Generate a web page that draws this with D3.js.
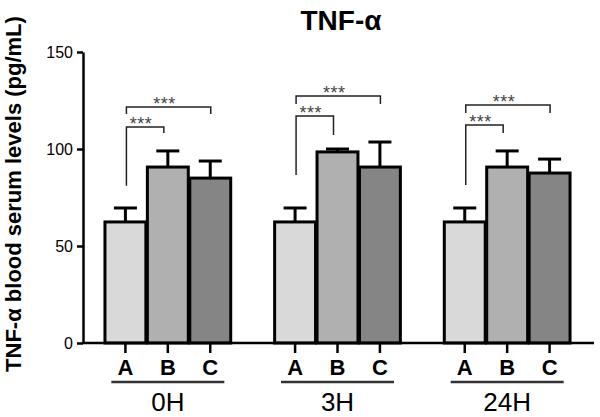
<!DOCTYPE html>
<html>
<head>
<meta charset="utf-8">
<script src="https://cdn.jsdelivr.net/npm/d3@7/dist/d3.min.js"></script>
<style>
  html, body { margin: 0; padding: 0; background: #fff; }
  svg { display: block; font-family: Arial, "Liberation Sans", sans-serif; }
</style>
</head>
<body>
<svg id="chart" width="600" height="417"></svg>
<script>
// ---- data ----
const title = "TNF-α";
const yLabel = "TNF-α blood serum levels (pg/mL)";
const groups = ["0H", "3H", "24H"];
const categories = ["A", "B", "C"];
const meansA = [62.4, 62.4, 62.4];
const meansB = [90.7, 98.5, 90.7];
const meansC = [85.0, 90.7, 87.6];
const errA = [7.2, 7.2, 7.2];
const errB = [8.3, 1.5, 8.3];
const errC = [8.8, 12.9, 7.2];
const yTicks = [0, 50, 100, 150];
// significance brackets (value units): short A-B bracket and long A-C bracket
const shortTop = [111.3, 117.0, 112.4];
const shortLeftEnd = [81.0, 86.6, 81.4];
const shortRightEnd = [108.2, 107.2, 108.2];
const longTop = [121.6, 127.3, 122.7];
const longEnd = [118.0, 123.2, 118.6];
const sigLabel = "***";

// ---- layout ----
const svg = d3.select("#chart");
const plotLeft = 83, plotRight = 594, plotTop = 52, plotBottom = 343;
const colors = { A: "#d9d9d9", B: "#b0b0b0", C: "#858585" };

const y = d3.scaleLinear().domain([0, 150]).range([plotBottom, plotTop]);
const xg = d3.scaleBand().domain(groups).range([plotLeft, 592]).paddingInner(0.25).paddingOuter(0.125);
const xc = d3.scaleBand().domain(categories).range([0, xg.bandwidth()]).padding(0);
const cx = (g, c) => xg(g) + xc(c) + xc.bandwidth() / 2;

const means = { A: meansA, B: meansB, C: meansC };
const errs = { A: errA, B: errB, C: errC };
const bars = [];
groups.forEach((g, gi) => categories.forEach(c => bars.push({ g, c, v: means[c][gi], e: errs[c][gi] })));

// title
svg.append("text").attr("x", 341).attr("y", 30).attr("text-anchor", "middle")
  .attr("font-size", 28).attr("font-weight", "bold").text(title);

// y label
svg.append("text").attr("transform", "translate(21," + 194 + ") rotate(-90)")
  .attr("text-anchor", "middle").attr("font-size", 22).attr("font-weight", "bold").text(yLabel);

// error bars (drawn behind bars)
const eg = svg.append("g").attr("stroke", "#000").attr("stroke-width", 3);
bars.forEach(d => {
  const x0 = cx(d.g, d.c);
  eg.append("line").attr("x1", x0).attr("x2", x0).attr("y1", y(d.v)).attr("y2", y(d.v + d.e));
  eg.append("line").attr("x1", x0 - 11.5).attr("x2", x0 + 11.5).attr("y1", y(d.v + d.e)).attr("y2", y(d.v + d.e));
});

// bars
const bw = xc.bandwidth() - 1.5;
svg.append("g").selectAll("rect").data(bars).join("rect")
  .attr("x", d => cx(d.g, d.c) - bw / 2)
  .attr("y", d => y(d.v))
  .attr("width", bw)
  .attr("height", d => y(0) - y(d.v))
  .attr("fill", d => colors[d.c])
  .attr("stroke", "#000").attr("stroke-width", 3);

// axes
const yAxis = d3.axisLeft(y).tickValues(yTicks).tickSize(6).tickPadding(4).tickSizeOuter(0);
const ya = svg.append("g").attr("transform", `translate(${plotLeft},0)`).call(yAxis);
ya.select(".domain").attr("stroke-width", 2.5);
ya.selectAll(".tick line").attr("stroke-width", 2.5);
ya.selectAll(".tick text").attr("font-size", 16).attr("font-family", "Arial, 'Liberation Sans', sans-serif").attr("fill", "#000");

svg.append("line").attr("x1", plotLeft - 1.25).attr("x2", plotRight).attr("y1", plotBottom).attr("y2", plotBottom)
  .attr("stroke", "#000").attr("stroke-width", 2.5);

// x ticks + category labels
groups.forEach(g => {
  categories.forEach(c => {
    const x0 = cx(g, c);
    svg.append("line").attr("x1", x0).attr("x2", x0).attr("y1", plotBottom).attr("y2", plotBottom + 10)
      .attr("stroke", "#000").attr("stroke-width", 2.5);
    svg.append("text").attr("x", x0).attr("y", 375).attr("text-anchor", "middle")
      .attr("font-size", 22).attr("font-weight", "bold").text(c);
  });
  const gc = cx(g, "B");
  svg.append("line").attr("x1", gc - 56.5).attr("x2", gc + 56.5).attr("y1", 382).attr("y2", 382)
    .attr("stroke", "#333").attr("stroke-width", 2.5);
  svg.append("text").attr("x", gc).attr("y", 411).attr("text-anchor", "middle")
    .attr("font-size", 26).text(g);
});

// significance brackets
const bg = svg.append("g").attr("fill", "none").attr("stroke", "#222").attr("stroke-width", 1.5);
groups.forEach((g, gi) => {
  const xa = cx(g, "A") + 1;
  const xb = cx(g, "B") - 4;
  const xcc = cx(g, "C") + 0.5;
  bg.append("path").attr("d", `M${xa},${y(shortLeftEnd[gi])}V${y(shortTop[gi])}H${xb}V${y(shortRightEnd[gi])}`);
  bg.append("path").attr("d", `M${xa},${y(longEnd[gi])}V${y(longTop[gi])}H${xcc}V${y(longEnd[gi])}`);
  [[xa, xb, shortTop[gi]], [xa, xcc, longTop[gi]]].forEach(([a, b, t]) => {
    svg.append("text").attr("x", (a + b) / 2 - 4).attr("y", y(t) + 3)
      .attr("text-anchor", "middle").attr("font-size", 18).attr("fill", "#444")
      .attr("letter-spacing", 0.5).text(sigLabel);
  });
});
</script>
</body>
</html>
